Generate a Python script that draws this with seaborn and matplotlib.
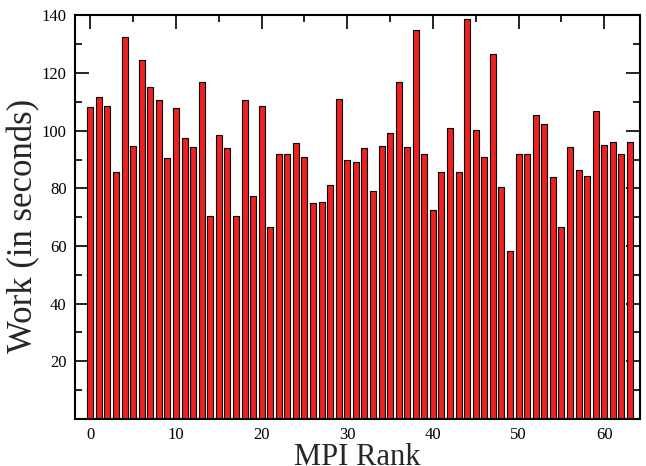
import numpy as np
import pandas as pd
import matplotlib
matplotlib.use("Agg")
import matplotlib.pyplot as plt
import seaborn as sns
from matplotlib.ticker import MultipleLocator

# work per MPI rank
ranks = list(range(64))
work = [108.1, 111.6, 108.4, 85.5, 132.6, 94.6, 124.4, 115.0, 110.7, 90.5,
        107.8, 97.3, 94.4, 117.0, 70.3, 98.6, 94.0, 70.3, 110.7, 77.3,
        108.7, 66.5, 92.0, 92.0, 95.6, 91.0, 75.0, 75.3, 81.3, 111.0,
        89.7, 89.3, 94.0, 79.2, 94.6, 99.3, 117.0, 94.4, 135.1, 92.0,
        72.4, 85.5, 100.9, 85.8, 138.7, 100.2, 91.0, 126.5, 80.3, 58.4,
        92.0, 92.0, 105.4, 102.2, 83.9, 66.5, 94.4, 86.4, 84.2, 106.8,
        95.0, 96.2, 92.0, 95.9]

df = pd.DataFrame({"rank": ranks, "work": work})

sns.set_theme(style="ticks")
plt.rcParams['font.family'] = ['Liberation Serif', 'DejaVu Serif']

fig = plt.figure(figsize=(6.46, 4.66), dpi=100)
ax = fig.add_axes([0.116, 0.101, 0.875, 0.866])

sns.barplot(data=df, x="rank", y="work", native_scale=True, width=0.7,
            color="#ee2020", saturation=1, edgecolor="black", linewidth=0.8, ax=ax)

ax.set_xlim(-1.8, 64.2)
ax.set_ylim(0, 140)
ax.xaxis.set_major_locator(MultipleLocator(10))
ax.xaxis.set_minor_locator(MultipleLocator(5))
ax.set_yticks([20, 40, 60, 80, 100, 120, 140])
ax.set_yticks([10, 30, 50, 70, 90, 110, 130], minor=True)

ax.tick_params(which="both", direction="in", top=True, right=True,
               labelsize=12, colors="black", width=1.2)
ax.tick_params(which="major", length=10, pad=6)
ax.tick_params(which="minor", length=5)
for s in ax.spines.values():
    s.set_linewidth(1.5)
    s.set_color("black")

ax.set_xlabel("MPI Rank", fontsize=22, labelpad=0)
ax.set_ylabel("Work (in seconds)", fontsize=25)
ax.yaxis.set_label_coords(-0.062, 0.478)

fig.savefig("out.png", dpi=100)
